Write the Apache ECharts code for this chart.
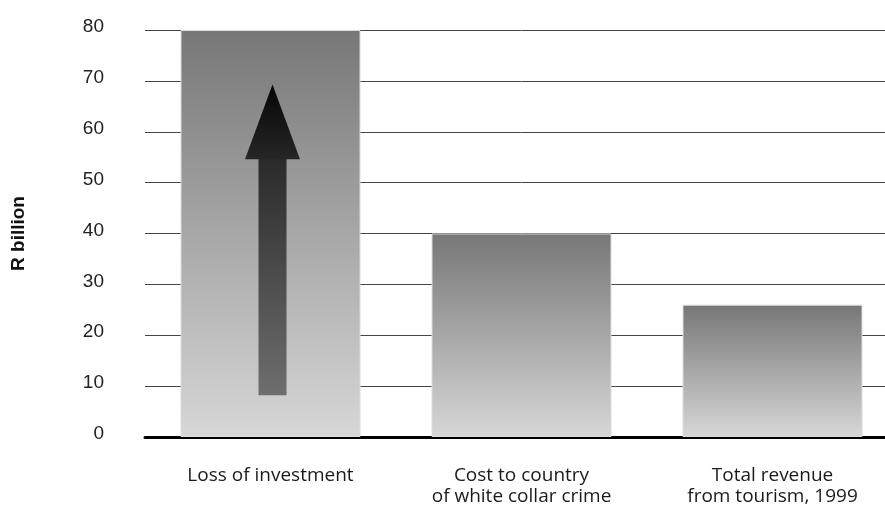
<!DOCTYPE html>
<html>
<head>
<meta charset="utf-8">
<script src="https://cdn.jsdelivr.net/npm/echarts@6/dist/echarts.min.js"></script>
<style>
  html, body { margin: 0; padding: 0; background: #fff; overflow: hidden; }
  /* the last category band runs a little past the right edge of the page */
  #chart { width: 898px; height: 507px; }
</style>
</head>
<body>
<div id="chart"></div>
<script>
// Categories and values (R billion)
const categories = ['Loss of investment', 'Cost to country\nof white collar crime', 'Total revenue\nfrom tourism, 1999'];
const values = [80, 40, 26];
const yTicks = [0, 10, 20, 30, 40, 50, 60, 70, 80];

// Upward arrow drawn inside the first bar: shaft start, head base, tip (axis units)
const arrowCategory = 0;
const arrowStart = 8.2;
const arrowHeadBase = 54.6;
const arrowTip = 69.3;

const chart = echarts.init(document.getElementById('chart'), null, { renderer: 'canvas' });

const barGradient = new echarts.graphic.LinearGradient(0, 0, 0, 1, [
  { offset: 0, color: '#777777' },
  { offset: 1, color: '#d7d7d7' }
]);

chart.setOption({
  animation: false,
  backgroundColor: '#ffffff',
  grid: { left: 145, top: 30, bottom: 66, right: 0, containLabel: false },
  xAxis: {
    type: 'category',
    data: categories,
    axisLine: { show: true, lineStyle: { color: '#000', width: 3 } },
    axisTick: { show: false },
    axisLabel: {
      margin: 28,
      fontFamily: 'Open Sans',
      fontSize: 19,
      color: '#1a1a1a',
      lineHeight: 21,
      interval: 0
    }
  },
  yAxis: {
    type: 'value',
    min: yTicks[0],
    max: yTicks[yTicks.length - 1],
    interval: 10,
    name: 'R billion',
    nameLocation: 'middle',
    nameGap: 117,
    nameRotate: 90,
    nameTextStyle: { fontFamily: 'Liberation Sans', fontWeight: 'bold', fontSize: 19, color: '#111' },
    axisLine: { show: false },
    axisTick: { show: false },
    axisLabel: {
      margin: 41,
      fontFamily: 'Liberation Sans',
      fontSize: 19,
      color: '#222',
      verticalAlign: 'bottom',
      lineHeight: 6,
      formatter: v => String(v)
    },
    splitLine: { show: true, lineStyle: { color: '#444', width: 1 } }
  },
  series: [
    {
      type: 'bar',
      data: values,
      barWidth: 180,
      itemStyle: { color: barGradient, borderColor: '#dcdcdc', borderWidth: 1 },
      z: 2
    },
    {
      type: 'custom',
      z: 5,
      data: [[arrowCategory, arrowStart, arrowHeadBase, arrowTip]],
      renderItem: function (params, api) {
        const start = api.coord([api.value(0), api.value(1)]);
        const headBase = api.coord([api.value(0), api.value(2)]);
        const tip = api.coord([api.value(0), api.value(3)]);
        const x = start[0] + 2;
        const shaftHalf = 14;
        const headHalf = 27.5;
        return {
          type: 'group',
          children: [
            {
              type: 'rect',
              shape: { x: x - shaftHalf, y: headBase[1] - 1, width: shaftHalf * 2, height: start[1] - headBase[1] + 1 },
              style: {
                fill: new echarts.graphic.LinearGradient(0, 0, 0, 1, [
                  { offset: 0, color: '#2a2a2a' },
                  { offset: 1, color: '#6e6e6e' }
                ])
              }
            },
            {
              type: 'polygon',
              shape: { points: [[x, tip[1]], [x + headHalf, headBase[1]], [x - headHalf, headBase[1]]] },
              style: {
                fill: new echarts.graphic.LinearGradient(0, 0, 0, 1, [
                  { offset: 0, color: '#050505' },
                  { offset: 1, color: '#262626' }
                ])
              }
            }
          ]
        };
      }
    }
  ]
});
</script>
</body>
</html>
